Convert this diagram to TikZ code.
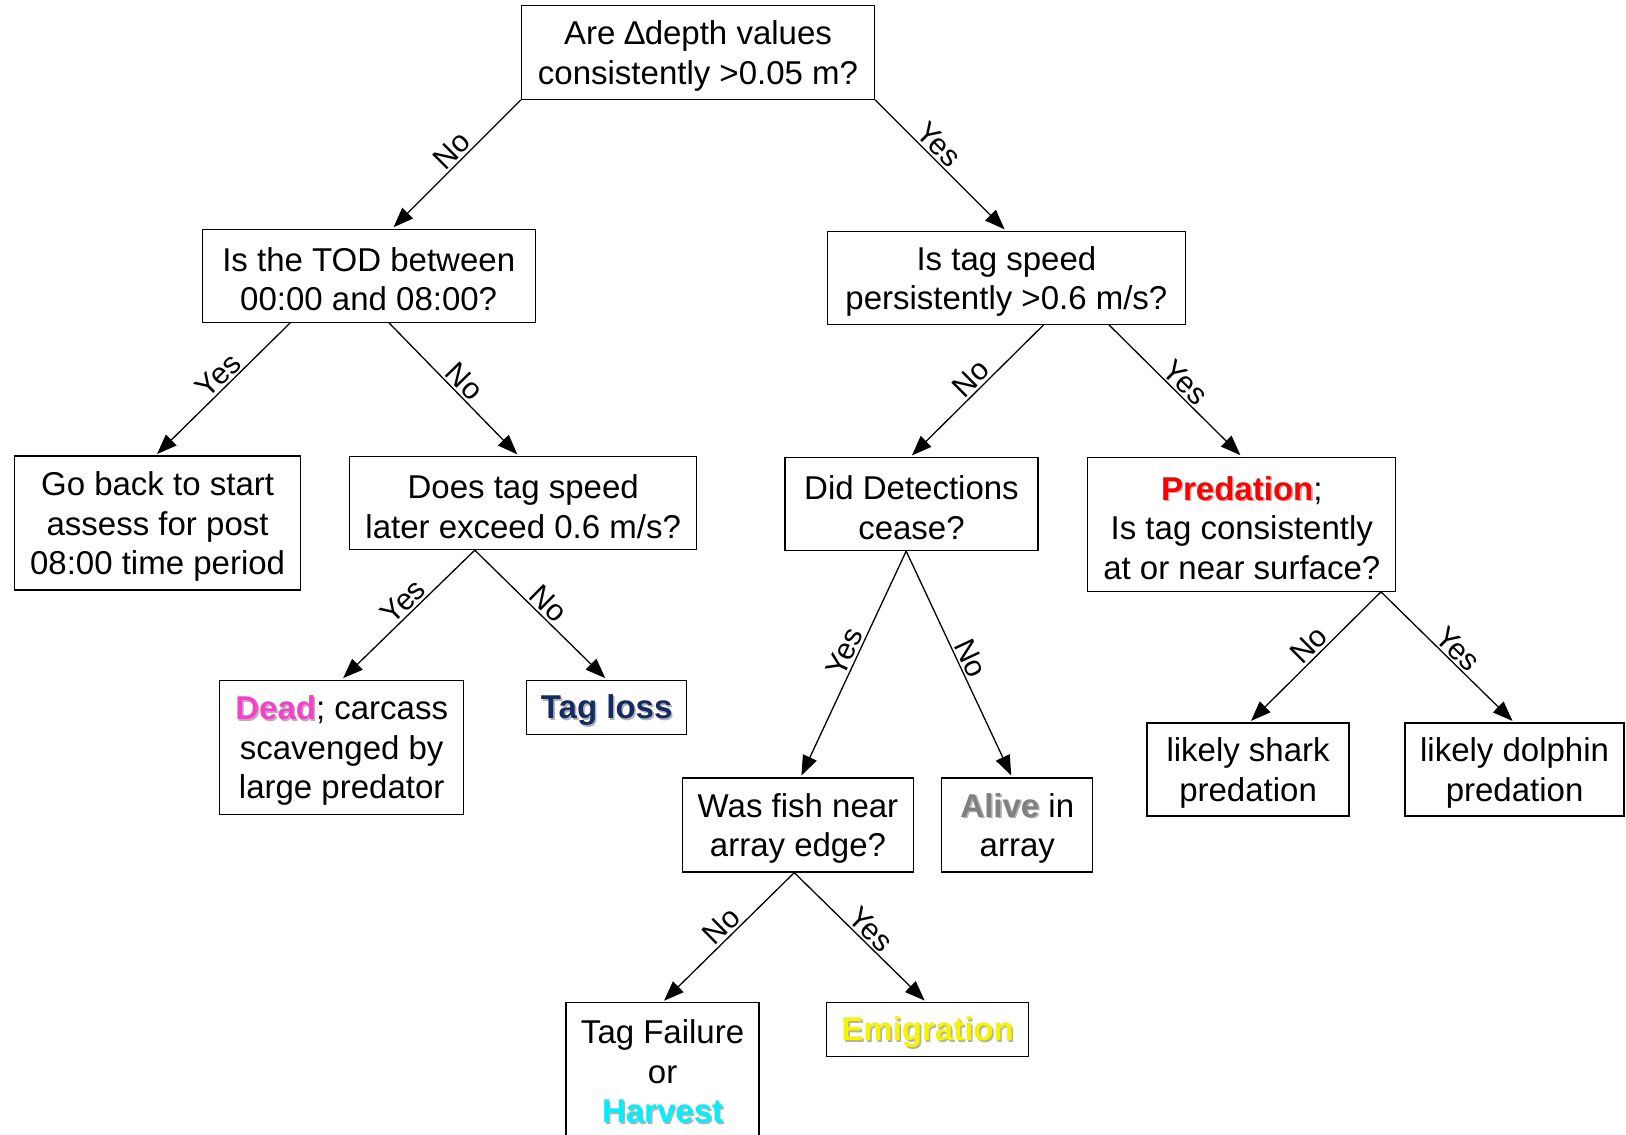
\documentclass[tikz,border=0pt]{standalone}
\usepackage{fontspec}
\setmainfont{Liberation Sans}
\usetikzlibrary{arrows.meta,calc}
\definecolor{cDead}{HTML}{F83FCB}
\definecolor{cLoss}{HTML}{142B63}
\definecolor{cPred}{HTML}{FF0000}
\definecolor{cHarv}{HTML}{00F0FF}
\definecolor{cEmig}{HTML}{F5F500}
\definecolor{cAlive}{HTML}{808080}
\newcommand{\shd}[2]{\leavevmode\rlap{\kern1.6pt\raisebox{-1.6pt}{\color{black!30}\textbf{#2}}}{\color{#1}\textbf{#2}}}
\newcommand{\topstrut}{\rule{0pt}{31pt}}
\tikzset{
  box/.style={draw=black, line width=1.3pt, rectangle, align=center, inner sep=0pt,
    font=\fontsize{33}{39.5}\selectfont, execute at begin node={\topstrut}},
  conn/.style={line width=1.3pt, -{Triangle[length=20pt,width=15pt]}, shorten >=2pt},
  lab/.style={sloped, above, inner sep=2pt, font=\fontsize{30}{34}\selectfont}
}
\begin{document}
\begin{tikzpicture}[x=1pt,y=-1pt]
\useasboundingbox (0,0) rectangle (1626,1135);
% nodes
\node[box, minimum width=353pt, minimum height=94pt] (root) at (698,52.3) {\topstrut Are ∆depth values\\consistently >0.05 m?};
\node[box, minimum width=333pt, minimum height=93pt] (tod) at (368.7,275.8) {\topstrut Is the TOD between\\00:00 and 08:00?};
\node[box, minimum width=358pt, minimum height=93pt] (spd) at (1006.4,277.9) {\topstrut Is tag speed\\persistently >0.6 m/s?};
\node[box, minimum width=286pt, minimum height=134pt] (back) at (157.6,523.1) {\topstrut Go back to start\\assess for post\\08:00 time period};
\node[box, minimum width=347pt, minimum height=93pt] (does) at (523.2,503) {\topstrut Does tag speed\\later exceed 0.6 m/s?};
\node[box, minimum width=253pt, minimum height=93pt] (det) at (911.5,504) {\topstrut Did Detections\\cease?};
\node[box, minimum width=308pt, minimum height=134pt] (pred) at (1241.8,524.2) {\topstrut\shd{cPred}{Predation};\\Is tag consistently\\at or near surface?};
\node[box, minimum width=244pt, minimum height=134pt] (dead) at (341.7,747.2) {\topstrut\shd{cDead}{Dead}; carcass\\scavenged by\\large predator};
\node[box, minimum width=160pt, minimum height=54pt] (loss) at (606.7,707.2) {\shd{cLoss}{Tag loss}};
\node[box, minimum width=202pt, minimum height=93pt] (shark) at (1248.1,769.5) {\topstrut likely shark\\predation};
\node[box, minimum width=219pt, minimum height=93pt] (dolph) at (1514.6,769.5) {\topstrut likely dolphin\\predation};
\node[box, minimum width=231pt, minimum height=94pt] (was) at (798,825) {\topstrut Was fish near\\array edge?};
\node[box, minimum width=151pt, minimum height=94pt] (alive) at (1017.3,825) {\topstrut\shd{cAlive}{Alive} in\\array};
\node[box, minimum width=193pt, minimum height=150pt] (fail) at (662.6,1077.8) {\topstrut Tag Failure\\or\\\shd{cHarv}{Harvest}\rule[-20pt]{0pt}{1pt}};
\node[box, minimum width=202pt, minimum height=54pt] (emig) at (927.6,1029.6) {\shd{cEmig}{Emigration}};
% connectors
\draw[conn] (root.south west) -- node[lab, pos=0.465] (l1) {No} ($(tod.north west)!0.570!(tod.north east)$);
\draw[conn] (root.south east) -- node[lab, pos=0.414] (l2) {Yes} ($(spd.north west)!0.499!(spd.north east)$);
\draw[conn] ($(tod.south west)!0.265!(tod.south east)$) -- node[lab, pos=0.467] (l3) {Yes} ($(back.north west)!0.493!(back.north east)$);
\draw[conn] ($(tod.south west)!0.561!(tod.south east)$) -- node[lab, pos=0.51] (l4) {No} ($(does.north west)!0.487!(does.north east)$);
\draw[conn] ($(does.south west)!0.361!(does.south east)$) -- node[lab, pos=0.47] (l5) {Yes} (dead.north);
\draw[conn] ($(does.south west)!0.361!(does.south east)$) -- node[lab, pos=0.488] (l6) {No} (loss.north);
\draw[conn] ($(spd.south west)!0.603!(spd.south east)$) -- node[lab, pos=0.475] (l7) {No} ($(det.north west)!0.496!(det.north east)$);
\draw[conn] ($(spd.south west)!0.786!(spd.south east)$) -- node[lab, pos=0.506] (l8) {Yes} (pred.north);
\draw[conn] ($(det.south west)!0.479!(det.south east)$) -- node[lab, pos=0.469] (l9) {Yes} ($(was.north west)!0.511!(was.north east)$);
\draw[conn] ($(det.south west)!0.479!(det.south east)$) -- node[lab, pos=0.498] (l10) {No} ($(alive.north west)!0.466!(alive.north east)$);
\draw[conn] ($(pred.south west)!0.950!(pred.south east)$) -- node[lab, pos=0.48] (l11) {No} ($(shark.north west)!0.507!(shark.north east)$);
\draw[conn] ($(pred.south west)!0.950!(pred.south east)$) -- node[lab, pos=0.51] (l12) {Yes} ($(dolph.north west)!0.497!(dolph.north east)$);
\draw[conn] ($(was.south west)!0.484!(was.south east)$) -- node[lab, pos=0.486] (l13) {No} (fail.north);
\draw[conn] ($(was.south west)!0.484!(was.south east)$) -- node[lab, pos=0.514] (l14) {Yes} ($(emig.north west)!0.4925!(emig.north east)$);
\end{tikzpicture}
\end{document}
